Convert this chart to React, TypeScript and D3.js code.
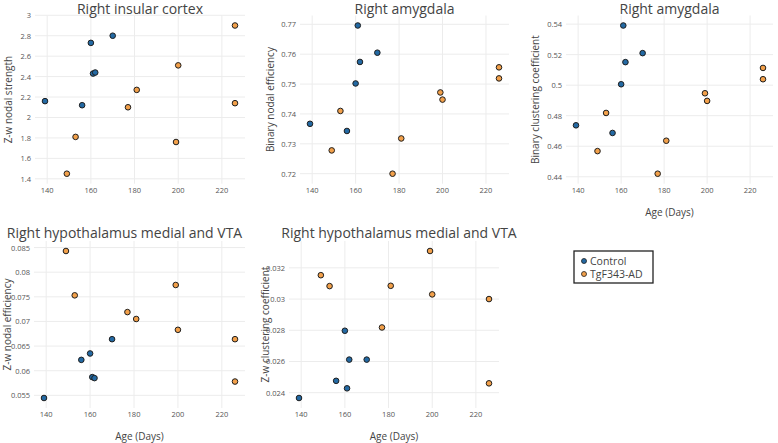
import * as d3 from "d3";

const controlAge = [139, 156, 160, 161, 162, 170];
const tgAge = [149, 153, 177, 181, 199, 200, 226, 226];

const insularStrengthCtrl = [2.16, 2.12, 2.73, 2.43, 2.44, 2.8];
const insularStrengthTg = [1.45, 1.81, 2.1, 2.27, 1.76, 2.51, 2.9, 2.14];

const amygEffCtrl = [0.7367, 0.7343, 0.7502, 0.7696, 0.7574, 0.7605];
const amygEffTg = [0.7278, 0.741, 0.72, 0.7318, 0.7472, 0.7448, 0.7556, 0.7519];

const amygClustCtrl = [0.4737, 0.4687, 0.5006, 0.5391, 0.5151, 0.521];
const amygClustTg = [0.4568, 0.4818, 0.442, 0.4636, 0.4947, 0.4897, 0.5113, 0.5039];

const hypoEffCtrl = [0.05446, 0.0622, 0.0635, 0.0587, 0.0585, 0.0664];
const hypoEffTg = [0.0843, 0.0753, 0.0719, 0.0705, 0.0774, 0.0683, 0.0664, 0.0578];

const hypoClustCtrl = [0.02366, 0.02476, 0.02797, 0.02428, 0.02612, 0.02612];
const hypoClustTg = [0.03153, 0.03083, 0.02818, 0.03085, 0.03308, 0.0303, 0.03, 0.0246];

const xTicks = [140, 160, 180, 200, 220];
const groups = ["Control", "TgF343-AD"];

const COLORS = ["#2369a3", "#f2a04a"];
const FONT = "'Open Sans', 'DejaVu Sans', sans-serif";

type Panel = {
  title: string;
  yLabel: string;
  ctrl: number[];
  tg: number[];
  yTicks: number[];
  box: [number, number, number, number]; // left, right, top, bottom
  titleX: number;
  titleY: number;
  yLabelX: number;
  xTitle: boolean;
};

const panels: Panel[] = [
  {
    title: "Right insular cortex", yLabel: "Z-w nodal strength",
    ctrl: insularStrengthCtrl, tg: insularStrengthTg,
    yTicks: [1.4, 1.6, 1.8, 2, 2.2, 2.4, 2.6, 2.8, 3],
    box: [35, 245, 15.5, 183.7], titleX: 140, titleY: 8.5, yLabelX: 8, xTitle: false,
  },
  {
    title: "Right amygdala", yLabel: "Binary nodal efficiency",
    ctrl: amygEffCtrl, tg: amygEffTg,
    yTicks: [0.72, 0.73, 0.74, 0.75, 0.76, 0.77],
    box: [300, 509, 15.5, 183.7], titleX: 404.5, titleY: 8.5, yLabelX: 270, xTitle: false,
  },
  {
    title: "Right amygdala", yLabel: "Binary clustering coefficient",
    ctrl: amygClustCtrl, tg: amygClustTg,
    yTicks: [0.44, 0.46, 0.48, 0.5, 0.52, 0.54],
    box: [566, 773, 15.5, 183.7], titleX: 669.5, titleY: 8.5, yLabelX: 535, xTitle: true,
  },
  {
    title: "Right hypothalamus medial and VTA", yLabel: "Z-w nodal efficiency",
    ctrl: hypoEffCtrl, tg: hypoEffTg,
    yTicks: [0.055, 0.06, 0.065, 0.07, 0.075, 0.08, 0.085],
    box: [34, 245, 241, 408], titleX: 124.5, titleY: 232, yLabelX: 7, xTitle: true,
  },
  {
    title: "Right hypothalamus medial and VTA", yLabel: "Z-w clustering coefficient",
    ctrl: hypoClustCtrl, tg: hypoClustTg,
    yTicks: [0.024, 0.026, 0.028, 0.03, 0.032],
    box: [289, 499, 241, 408], titleX: 399, titleY: 232, yLabelX: 265, xTitle: true,
  },
];

const PAD = 10;
const fmt = d3.format("~g");

function ScatterPanel({ p }: { p: Panel }) {
  const [l, r, t, b] = p.box;
  const ages = [...controlAge, ...tgAge];
  const x = d3.scaleLinear().domain(d3.extent(ages) as [number, number]).range([l + PAD, r - PAD]);
  const y = d3
    .scaleLinear()
    .domain(d3.extent([...p.ctrl, ...p.tg]) as [number, number])
    .range([b - PAD, t + PAD]);

  const series = [
    { ages: controlAge, vals: p.ctrl, color: COLORS[0] },
    { ages: tgAge, vals: p.tg, color: COLORS[1] },
  ];

  return (
    <g>
      {/* grid */}
      {p.yTicks.map((v) => (
        <line key={"gy" + v} x1={l} x2={r} y1={y(v)} y2={y(v)} stroke="#ececec" strokeWidth={1} />
      ))}
      {xTicks.map((v) => (
        <line key={"gx" + v} x1={x(v)} x2={x(v)} y1={t} y2={b} stroke="#ececec" strokeWidth={1} />
      ))}

      {/* tick labels */}
      {p.yTicks.map((v) => (
        <text key={"ty" + v} x={l - 4} y={y(v)} textAnchor="end" dominantBaseline="central"
          fontSize={7.5} fill="#555">{fmt(v)}</text>
      ))}
      {xTicks.map((v) => (
        <text key={"tx" + v} x={x(v)} y={b + 6} textAnchor="middle" dominantBaseline="central"
          fontSize={7.5} fill="#555">{v}</text>
      ))}

      {/* points */}
      {series.map((s, si) =>
        s.ages.map((a, i) => (
          <circle key={si + "-" + i} cx={x(a)} cy={y(s.vals[i])} r={2.8}
            fill={s.color} stroke="#1e1e1e" strokeWidth={1} />
        ))
      )}

      <text x={p.titleX} y={p.titleY} textAnchor="middle" dominantBaseline="central"
        fontSize={14} fill="#444">{p.title}</text>
      <text transform={`translate(${p.yLabelX},${(t + b) / 2}) rotate(-90)`} textAnchor="middle"
        dominantBaseline="central" fontSize={10} fill="#444">{p.yLabel}</text>
      {p.xTitle && (
        <text x={(l + r) / 2} y={b + 28} textAnchor="middle" dominantBaseline="central"
          fontSize={10} fill="#444">Age (Days)</text>
      )}
    </g>
  );
}

export default function App() {
  return (
    <svg width={778} height={443} style={{ position: "absolute", left: 0, top: 0, background: "#fff" }}
      fontFamily={FONT}>
      {panels.map((p, i) => (
        <ScatterPanel key={i} p={p} />
      ))}
      {/* legend */}
      <g>
        <rect x={574} y={251} width={79} height={32} fill="#fff" stroke="#222" strokeWidth={1.3} />
        {groups.map((g, i) => (
          <g key={g}>
            <circle cx={584} cy={261 + i * 13} r={2.5} fill={COLORS[i]} stroke="#1e1e1e" strokeWidth={0.8} />
            <text x={590} y={261 + i * 13} dominantBaseline="central" fontSize={10.5} fill="#444">{g}</text>
          </g>
        ))}
      </g>
    </svg>
  );
}
